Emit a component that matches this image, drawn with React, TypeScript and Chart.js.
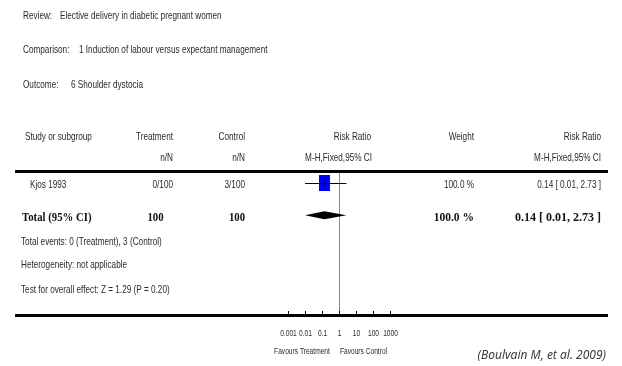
import React, { useEffect, useRef } from "react";
import { Chart, registerables } from "chart.js";

Chart.register(...registerables);

// ---- data ----
const studies = ["Kjos 1993"];
const treatmentNN = ["0/100"];
const controlNN = ["3/100"];
const studyWeights = ["100.0 %"];
const studyRR = [0.14];
const studyLo = [0.01];
const studyHi = [2.73];

const totalTreatment = 100;
const totalControl = 100;
const totalWeight = "100.0 %";
const totalRR = 0.14;
const totalLo = 0.01;
const totalHi = 2.73;

const tickValues = [0.001, 0.01, 0.1, 1, 10, 100, 1000];
const tickLabels = ["0.001", "0.01", "0.1", "1", "10", "100", "1000"];

const headerLines = [
  ["Review:", "Elective delivery in diabetic pregnant women"],
  ["Comparison:", "1 Induction of labour versus expectant management"],
  ["Outcome:", "6 Shoulder dystocia"],
];
const footerLines = [
  "Total events: 0 (Treatment), 3 (Control)",
  "Heterogeneity: not applicable",
  "Test for overall effect: Z = 1.29 (P = 0.20)",
];

const SANS = '"Liberation Sans", Arial, sans-serif';
const SERIF = '"Liberation Serif", "DejaVu Serif", serif';
const TEXT = "#2a2a2a";
const NX = 0.78; // horizontal condensing of the sans text

const fmtCI = (m: number, l: number, h: number) =>
  `${m.toFixed(2)} [ ${l.toFixed(2)}, ${h.toFixed(2)} ]`;

export default function App() {
  const ref = useRef<HTMLCanvasElement | null>(null);

  useEffect(() => {
    document.body.style.margin = "0";
    const canvas = ref.current!;

    const squareImg = document.createElement("canvas");
    squareImg.width = 11;
    squareImg.height = 16;
    const sctx = squareImg.getContext("2d")!;
    sctx.fillStyle = "#0000ff";
    sctx.fillRect(0, 0, 11, 16);

    const text = (
      ctx: CanvasRenderingContext2D,
      s: string,
      x: number,
      y: number,
      align: CanvasTextAlign,
      font: string,
      sx = NX,
      color = TEXT
    ) => {
      ctx.save();
      ctx.font = font;
      ctx.fillStyle = color;
      ctx.textAlign = align;
      ctx.textBaseline = "middle";
      ctx.translate(x, y);
      ctx.scale(sx, 1);
      ctx.fillText(s, 0, 0);
      ctx.restore();
    };

    const forestPlugin = {
      id: "forest",
      beforeDatasetsDraw(chart: any) {
        const { ctx, scales, chartArea } = chart;
        const x1 = scales.x.getPixelForValue(1);
        ctx.save();
        ctx.strokeStyle = "#8a8a8a";
        ctx.lineWidth = 1;
        ctx.beginPath();
        ctx.moveTo(Math.round(x1) + 0.5, chartArea.top);
        ctx.lineTo(Math.round(x1) + 0.5, chartArea.bottom);
        ctx.stroke();
        ctx.restore();
      },
      afterDatasetsDraw(chart: any) {
        const { ctx, scales, chartArea } = chart;
        const xs = scales.x;
        const ys = scales.y;
        ctx.save();

        // point estimate ticks
        studyRR.forEach((v, i) => {
          const px = Math.round(xs.getPixelForValue(v)) + 0.5;
          const py = ys.getPixelForValue(i);
          ctx.strokeStyle = "#000";
          ctx.lineWidth = 1;
          ctx.beginPath();
          ctx.moveTo(px, py - 2.5);
          ctx.lineTo(px, py + 2.5);
          ctx.stroke();
        });

        // diamond
        const dy = ys.getPixelForValue(studies.length);
        const dl = xs.getPixelForValue(totalLo);
        const dm = xs.getPixelForValue(totalRR);
        const dh = xs.getPixelForValue(totalHi);
        ctx.fillStyle = "#000";
        ctx.beginPath();
        ctx.moveTo(dl, dy);
        ctx.lineTo(dm, dy - 4);
        ctx.lineTo(dh, dy);
        ctx.lineTo(dm, dy + 4);
        ctx.closePath();
        ctx.fill();

        // horizontal rules
        ctx.fillStyle = "#000";
        ctx.fillRect(15, chartArea.top - 3, 593, 3);
        ctx.fillRect(15, chartArea.bottom, 593, 3);

        // axis ticks + labels
        const f8 = `8.5px ${SANS}`;
        tickValues.forEach((v, i) => {
          const px = Math.round(xs.getPixelForValue(v)) + 0.5;
          ctx.strokeStyle = "#000";
          ctx.lineWidth = 1;
          ctx.beginPath();
          ctx.moveTo(px, chartArea.bottom - 3);
          ctx.lineTo(px, chartArea.bottom);
          ctx.stroke();
          text(ctx, tickLabels[i], px, 333.5, "center", f8);
        });
        const x1 = xs.getPixelForValue(1);
        text(ctx, "Favours Treatment", x1 - 37, 352, "center", f8);
        text(ctx, "Favours Control", x1 + 24.5, 352, "center", f8);

        // header block
        const f10 = `10.5px ${SANS}`;
        const hy = [16, 50, 85];
        const hx = [60, 79, 71];
        headerLines.forEach((h, i) => {
          text(ctx, h[0], 23, hy[i], "left", f10);
          text(ctx, h[1], hx[i], hy[i], "left", f10);
        });

        // column headers
        text(ctx, "Study or subgroup", 25, 137, "left", f10);
        text(ctx, "Treatment", 173, 137, "right", f10);
        text(ctx, "Control", 245, 137, "right", f10);
        text(ctx, "Risk Ratio", 371, 137, "right", f10);
        text(ctx, "Weight", 474, 137, "right", f10);
        text(ctx, "Risk Ratio", 601, 137, "right", f10);
        text(ctx, "n/N", 173, 158, "right", f10);
        text(ctx, "n/N", 245, 158, "right", f10);
        text(ctx, "M-H,Fixed,95% CI", 372, 158, "right", f10);
        text(ctx, "M-H,Fixed,95% CI", 601, 158, "right", f10);

        // study rows
        studies.forEach((s, i) => {
          const py = ys.getPixelForValue(i) + 2;
          text(ctx, s, 30, py, "left", f10);
          text(ctx, treatmentNN[i], 173, py, "right", f10);
          text(ctx, controlNN[i], 245, py, "right", f10);
          text(ctx, studyWeights[i], 474, py, "right", f10);
          text(ctx, fmtCI(studyRR[i], studyLo[i], studyHi[i]), 601, py, "right", f10);
        });

        // total row
        const ty = dy + 3;
        const fbL = `bold 12.5px ${SERIF}`;
        const fbR = `bold 12px ${SERIF}`;
        text(ctx, "Total (95% CI)", 22, ty, "left", fbL, 0.86, "#111");
        text(ctx, String(totalTreatment), 163.5, ty, "right", fbL, 0.86, "#111");
        text(ctx, String(totalControl), 245, ty, "right", fbL, 0.86, "#111");
        text(ctx, totalWeight, 474, ty, "right", fbR, 0.96, "#111");
        text(ctx, fmtCI(totalRR, totalLo, totalHi), 601, ty, "right", fbR, 1, "#111");

        // footer
        const fy = [242, 265.5, 290];
        footerLines.forEach((s, i) => text(ctx, s, 21, fy[i], "left", f10));

        // citation
        text(ctx, "(Boulvain M, et al. 2009)", 606, 356, "right",
          `italic 12px "Noto Sans", "DejaVu Sans", sans-serif`, 1, "#3a3a3a");

        ctx.restore();
      },
    };

    const ciData = studies.map((_, i) => [
      { x: studyLo[i], y: i },
      { x: studyHi[i], y: i },
    ]);

    const chart = new Chart(canvas, {
      type: "scatter",
      data: {
        datasets: [
          ...ciData.map((d) => ({
            data: d,
            showLine: true,
            borderColor: "#000",
            borderWidth: 1,
            pointRadius: 0,
            order: 0,
          })),
          {
            data: studyRR.map((v, i) => ({ x: v, y: i })),
            pointStyle: squareImg as any,
            pointRadius: 6,
            order: 1,
          },
        ],
      },
      options: {
        animation: false,
        responsive: false,
        events: [],
        layout: { padding: { left: 288, right: 232, top: 173, bottom: 52 } },
        plugins: { legend: { display: false }, tooltip: { enabled: false } },
        scales: {
          x: { type: "logarithmic", min: 0.001, max: 1000, display: false },
          y: { type: "linear", min: -0.331, max: 4.117, reverse: true, display: false },
        },
      },
      plugins: [forestPlugin],
    });
    return () => chart.destroy();
  }, []);

  return <canvas ref={ref} width={622} height={366} style={{ display: "block" }} />;
}
